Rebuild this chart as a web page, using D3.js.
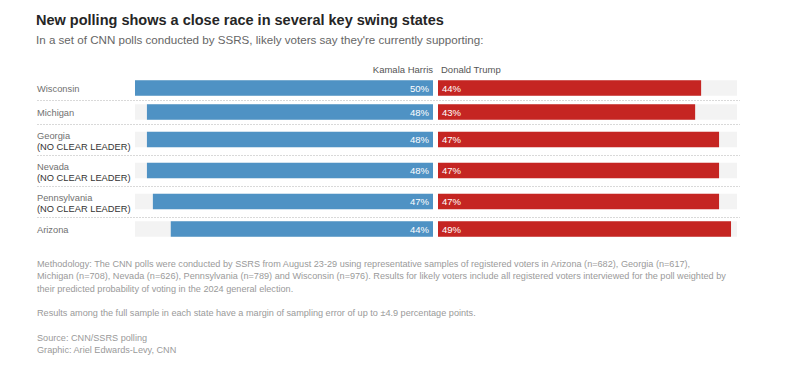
<!DOCTYPE html>
<html>
<head>
<meta charset="utf-8">
<script src="https://cdn.jsdelivr.net/npm/d3@7"></script>
<style>
  body { margin: 0; background: #fff; }
  svg text { font-family: "Liberation Sans", Arial, sans-serif; }
</style>
</head>
<body>
<script>
// poll values
var states = ["Wisconsin", "Michigan", "Georgia", "Nevada", "Pennsylvania", "Arizona"];
var notes = ["", "", "(NO CLEAR LEADER)", "(NO CLEAR LEADER)", "(NO CLEAR LEADER)", ""];
var harris = [50, 48, 48, 48, 47, 44];
var trump = [44, 43, 47, 47, 47, 49];
var candidates = ["Kamala Harris", "Donald Trump"];

var footnotes = [
  "Methodology: The CNN polls were conducted by SSRS from August 23-29 using representative samples of registered voters in Arizona (n=682), Georgia (n=617),",
  "Michigan (n=708), Nevada (n=626), Pennsylvania (n=789) and Wisconsin (n=976). Results for likely voters include all registered voters interviewed for the poll weighted by",
  "their predicted probability of voting in the 2024 general election.",
  "",
  "Results among the full sample in each state have a margin of sampling error of up to \u00b14.9 percentage points.",
  "",
  "Source: CNN/SSRS polling",
  "Graphic: Ariel Edwards-Levy, CNN"
];

var svg_width = 800;
var svg_height = 381;

var svg = d3.select("body")
  .append("svg")
  .attr("width", svg_width)
  .attr("height", svg_height);

// title + subtitle
svg.append("text")
  .attr("x", 36).attr("y", 25)
  .attr("font-size", 14.5)
  .attr("font-weight", "bold")
  .attr("fill", "#262626")
  .text("New polling shows a close race in several key swing states");

svg.append("text")
  .attr("x", 36).attr("y", 44)
  .attr("font-size", 11.6)
  .attr("fill", "#666")
  .text("In a set of CNN polls conducted by SSRS, likely voters say they're currently supporting:");

// rows with a note get more room
var row_top = [];
var row_h = [];
var y0 = 76;
states.forEach(function(s, i) {
  var h = notes[i] ? 31 : 24;
  row_top.push(y0);
  row_h.push(h);
  y0 += h;
});

var center_left = 433;
var center_right = 438;

var x_left = d3.scaleLinear().domain([0, 50]).range([center_left, 135]);
var x_right = d3.scaleLinear().domain([0, 50]).range([center_right, 737]);

var bar_h = 15.5;

// legend
svg.append("text")
  .attr("x", center_left).attr("y", 73)
  .attr("text-anchor", "end")
  .attr("font-size", 9.5)
  .attr("fill", "#555")
  .text(candidates[0]);

svg.append("text")
  .attr("x", center_right + 3).attr("y", 73)
  .attr("font-size", 9.5)
  .attr("fill", "#555")
  .text(candidates[1]);

var rows = svg.selectAll("g.row")
  .data(states)
  .enter()
  .append("g")
  .attr("class", "row")
  .attr("transform", function(d, i) { return "translate(0," + row_top[i] + ")"; });

// separators between rows
rows.filter(function(d, i) { return i > 0; })
  .append("line")
  .attr("x1", 37).attr("x2", 740)
  .attr("y1", 0.5).attr("y2", 0.5)
  .attr("stroke", "#d9d9d9")
  .attr("stroke-dasharray", "2,1");

// grey background tracks
rows.append("rect")
  .attr("x", x_left(50))
  .attr("y", function(d, i) { return (row_h[i] - bar_h) / 2; })
  .attr("width", center_left - x_left(50))
  .attr("height", bar_h)
  .attr("fill", "#f3f3f3");

rows.append("rect")
  .attr("x", center_right)
  .attr("y", function(d, i) { return (row_h[i] - bar_h) / 2; })
  .attr("width", x_right(50) - center_right)
  .attr("height", bar_h)
  .attr("fill", "#f3f3f3");

// harris bars
rows.append("rect")
  .attr("x", function(d, i) { return x_left(harris[i]); })
  .attr("y", function(d, i) { return (row_h[i] - bar_h) / 2; })
  .attr("width", function(d, i) { return center_left - x_left(harris[i]); })
  .attr("height", bar_h)
  .attr("fill", "#4f92c4");

// trump bars
rows.append("rect")
  .attr("x", center_right)
  .attr("y", function(d, i) { return (row_h[i] - bar_h) / 2; })
  .attr("width", function(d, i) { return x_right(trump[i]) - center_right; })
  .attr("height", bar_h)
  .attr("fill", "#c52522");

// value labels
rows.append("text")
  .attr("x", center_left - 4)
  .attr("y", function(d, i) { return row_h[i] / 2 + 3.5; })
  .attr("text-anchor", "end")
  .attr("font-size", 9.5)
  .attr("fill", "#fff")
  .text(function(d, i) { return harris[i] + "%"; });

rows.append("text")
  .attr("x", center_right + 4)
  .attr("y", function(d, i) { return row_h[i] / 2 + 3.5; })
  .attr("font-size", 9.5)
  .attr("fill", "#fff")
  .text(function(d, i) { return trump[i] + "%"; });

// state labels
rows.append("text")
  .attr("x", 37)
  .attr("y", function(d, i) { return notes[i] ? row_h[i] / 2 - 1 : row_h[i] / 2 + 4; })
  .attr("font-size", 9.3)
  .attr("fill", "#707070")
  .text(function(d) { return d; });

rows.filter(function(d, i) { return notes[i] != ""; })
  .append("text")
  .attr("x", 37)
  .attr("y", function(d) { var i = states.indexOf(d); return row_h[i] / 2 + 10; })
  .attr("font-size", 9.3)
  .attr("fill", "#333")
  .text(function(d) { return notes[states.indexOf(d)]; });

// footnotes
svg.selectAll("text.note")
  .data(footnotes)
  .enter()
  .append("text")
  .attr("class", "note")
  .attr("x", 37)
  .attr("y", function(d, i) { return 267 + i * 12.3; })
  .attr("font-size", 9.15)
  .attr("fill", "#9a9a9a")
  .text(function(d) { return d; });
</script>
</body>
</html>
